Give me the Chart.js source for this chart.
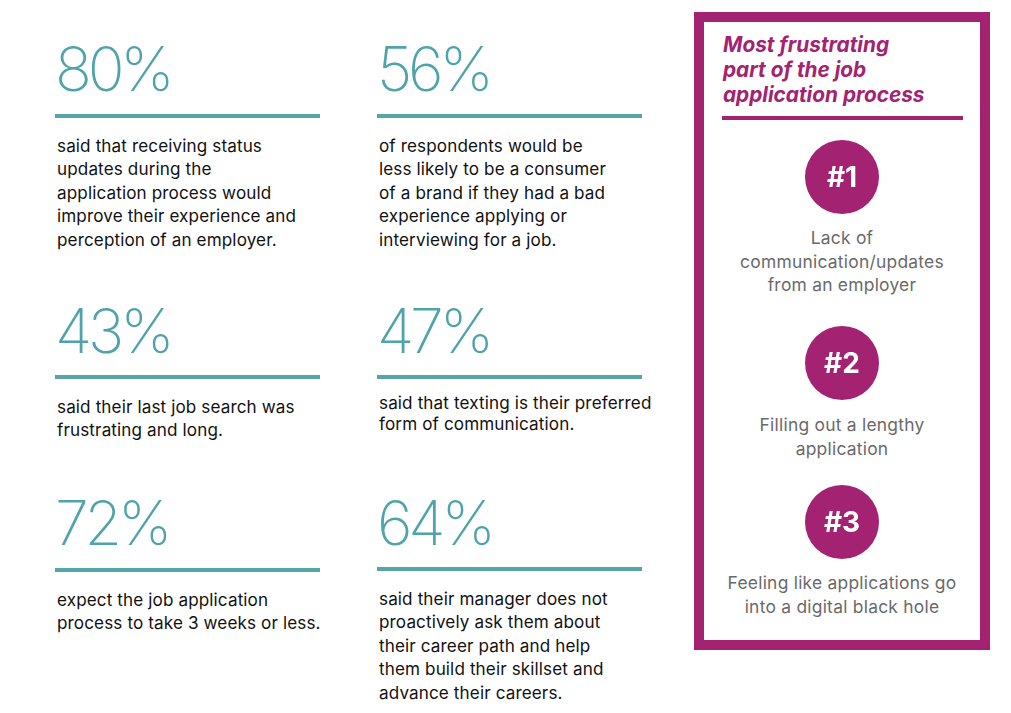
<!DOCTYPE html>
<html>
<head>
<meta charset="utf-8">
<title>Job application process</title>
<script src="https://cdn.jsdelivr.net/npm/chart.js@4"></script>
<style>
  html, body { margin: 0; padding: 0; background: #fff; }
  #page { position: relative; width: 1011px; height: 713px; overflow: hidden; font-family: "Inter", sans-serif; }
  .big, .txt, .rule, .head, .rank-txt, .badge, #frame, #head-rule { position: absolute; }
  .big { font-weight: 250; font-size: 61px; line-height: 70px; color: #4fa3aa; white-space: nowrap; letter-spacing: -4.2px; margin-left: -2px; }
  .rule { width: 265px; height: 4px; background: #56a5ab; }
  .txt { font-size: 17.1px; color: #111; white-space: nowrap; letter-spacing: 0.12px; }
  .col0 { left: 57px; } .col1 { left: 379px; }
  .rule.col0 { left: 55px; } .rule.col1 { left: 377px; }
  #frame { left: 694px; top: 12px; width: 276px; height: 618px; border: 10px solid #a32272; }
  .head { left: 723px; top: 32px; font: italic 700 20.8px/25px "Inter", sans-serif; color: #a32272; white-space: nowrap; }
  #head-rule { left: 722px; top: 116px; width: 241px; height: 4px; background: #a32272; }
  .badge { left: 805px; width: 74px; height: 74px; }
  .badge canvas { display: block; }
  .badge span { position: absolute; left: 0; right: 0; top: 0; line-height: 74px; text-align: center; color: #fff; font-weight: 700; font-size: 28px; }
  .rank-txt { left: 704px; width: 276px; text-align: center; font-size: 17.4px; letter-spacing: 0.25px; color: #6a6a6a; line-height: 23.5px; white-space: nowrap; }
</style>
</head>
<body>
<div id="page"></div>
<script>
const statValues = [80, 56, 43, 47, 72, 64];
const statLabels = [
    ["said that receiving status", "updates during the", "application process would", "improve their experience and", "perception of an employer."],
    ["of respondents would be", "less likely to be a consumer", "of a brand if they had a bad", "experience applying or", "interviewing for a job."],
    ["said their last job search was", "frustrating and long."],
    ["said that texting is their preferred", "form of communication."],
    ["expect the job application", "process to take 3 weeks or less."],
    ["said their manager does not", "proactively ask them about", "their career path and help", "them build their skillset and", "advance their careers."]
];
const panelTitle = ["Most frustrating", "part of the job", "application process"];
const rankNumbers = [1, 2, 3];
const rankLabels = [
    ["Lack of", "communication/updates", "from an employer"],
    ["Filling out a lengthy", "application"],
    ["Feeling like applications go", "into a digital black hole"]
];

// layout only, tops in px for each block
const bigTops = [34, 34, 296, 296, 488, 488];
const ruleTops = [114, 114, 375, 375, 568, 567];
const textTops = [134, 134, 395, 393, 588, 587];
const lineHeights = [23.4, 23.4, 23.4, 20.5, 23.4, 23.4];
const badgeTops = [140, 326, 485];
const rankTextTops = [226, 413, 571];

const page = document.getElementById('page');

function addEl(className, html, top) {
    const el = document.createElement('div');
    el.className = className;
    el.innerHTML = html;
    el.style.top = top + 'px';
    page.appendChild(el);
    return el;
}

statValues.forEach((val, i) => {
    const col = 'col' + (i % 2);
    addEl('big ' + col, val + '%', bigTops[i]);
    addEl('rule ' + col, '', ruleTops[i]);
    const t = addEl('txt ' + col, statLabels[i].join('<br>'), textTops[i]);
    t.style.lineHeight = lineHeights[i] + 'px';
});

const frame = document.createElement('div');
frame.id = 'frame';
page.appendChild(frame);
addEl('head', panelTitle.join('<br>'), 32);
const headRule = document.createElement('div');
headRule.id = 'head-rule';
page.appendChild(headRule);

rankNumbers.forEach((rank, i) => {
    const box = addEl('badge', '', badgeTops[i]);
    const canvas = document.createElement('canvas');
    canvas.width = 74;
    canvas.height = 74;
    box.appendChild(canvas);
    new Chart(canvas.getContext('2d'), {
        type: 'pie',
        data: {
            labels: ['#' + rank],
            datasets: [{ data: [rank], backgroundColor: '#a32272', borderWidth: 0 }]
        },
        options: {
            responsive: false,
            animation: false,
            layout: { padding: 0 },
            plugins: { legend: { display: false }, tooltip: { enabled: false } }
        }
    });
    const lab = document.createElement('span');
    lab.textContent = '#' + rank;
    box.appendChild(lab);
    addEl('rank-txt', rankLabels[i].join('<br>'), rankTextTops[i]);
});
</script>
</body>
</html>
